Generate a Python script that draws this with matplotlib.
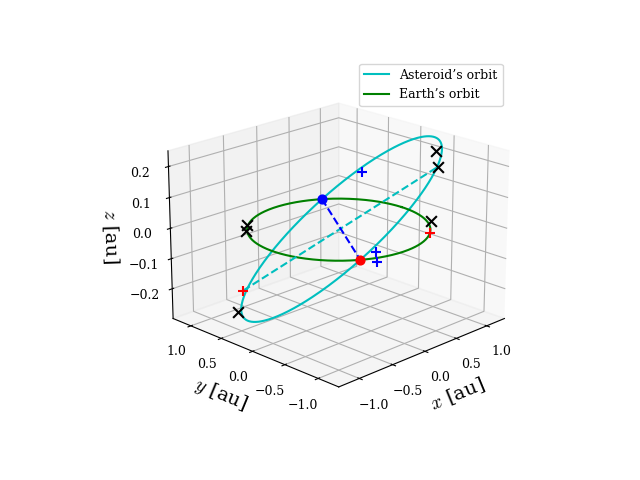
import numpy as np
import matplotlib
matplotlib.use("Agg")
import matplotlib.pyplot as plt

plt.rcParams["mathtext.fontset"] = "cm"
plt.rcParams["font.family"] = "serif"
plt.rcParams["font.serif"] = ["DejaVu Serif"]

# asteroid orbit geometry
node1_angle_deg = 56.0
node2_angle_deg = 238.0
semi_apsis = 1.13
incl_deg = 13.5
earth_radius = 1.0

# markers (x, y, z)
black_x = [(0.74, -0.74, 0.25), (0.76, -0.76, 0.2), (-0.72, 0.86, -0.29),
           (-0.7, 0.72, 0.01), (-0.71, 0.72, -0.01), (0.74, -0.68, 0.02)]
red_plus = [(-0.66, 0.84, -0.22), (0.74, -0.68, -0.02)]
blue_plus = [(0.05, -0.3, 0.2), (-0.1, -0.66, -0.02), (-0.12, -0.7, -0.05)]

t = np.linspace(0, 2 * np.pi, 400)
a1, a2 = np.radians(node1_angle_deg), np.radians(node2_angle_deg)
P1 = np.array([np.cos(a1), np.sin(a1), 0.0]) * earth_radius
P2 = np.array([np.cos(a2), np.sin(a2), 0.0]) * earth_radius
c = (P1 + P2) / 2
h = (P1 - P2) / 2
na = np.arctan2(h[1], h[0])
inc = np.radians(incl_deg)
pa = na + np.pi / 2
u = np.array([np.cos(pa) * np.cos(inc), np.sin(pa) * np.cos(inc), -np.sin(inc)])
orb = c + np.outer(np.cos(t), h) + np.outer(np.sin(t) * semi_apsis, u)
blue_dot = tuple(P1)
red_dot = tuple(P2)

fig = plt.figure(figsize=(6.4, 4.8), dpi=100)
ax = fig.add_subplot(projection="3d")
pos = ax.get_position()
ax.set_position([pos.x0 + 0.009, pos.y0 + 0.003, pos.width, pos.height])
ax.view_init(elev=20, azim=-135)

ax.plot(orb[:, 0], orb[:, 1], orb[:, 2], color="c", label="Asteroid\u2019s orbit")
ax.plot(earth_radius * np.cos(t), earth_radius * np.sin(t), 0 * t, color="g", label="Earth\u2019s orbit")

p1 = red_plus[0]
p2 = black_x[1]
ax.plot([p1[0], p2[0]], [p1[1], p2[1]], [p1[2], p2[2]], "c--")
ax.plot([blue_dot[0], red_dot[0]], [blue_dot[1], red_dot[1]], [0, 0], "b--")

for p in black_x:
    ax.scatter(*p, marker="x", color="k", s=60, depthshade=False)
for p in red_plus:
    ax.scatter(*p, marker="+", color="r", s=60, depthshade=False)
for p in blue_plus:
    ax.scatter(*p, marker="+", color="b", s=60, depthshade=False)
ax.scatter(*blue_dot, marker="o", color="b", s=40, depthshade=False)
ax.scatter(*red_dot, marker="o", color="r", s=40, depthshade=False)

ax.set_xlim(-1.3, 1.3)
ax.set_ylim(-1.3, 1.3)
ax.set_zlim(-0.3, 0.25)
ax.set_xticks([-1.0, -0.5, 0.0, 0.5, 1.0])
ax.set_yticks([-1.0, -0.5, 0.0, 0.5, 1.0])
ax.set_zticks([-0.2, -0.1, 0.0, 0.1, 0.2])
ax.tick_params(labelsize=9)
ax.set_xlabel(r"$x$ [au]", fontsize=14)
ax.set_ylabel(r"$y$ [au]", fontsize=14)
ax.set_zlabel(r"$z$ [au]", fontsize=14)
ax.legend(loc="upper right", fontsize=9, bbox_to_anchor=(0.795, 0.88), bbox_transform=fig.transFigure)

fig.savefig("out.png", dpi=100)
